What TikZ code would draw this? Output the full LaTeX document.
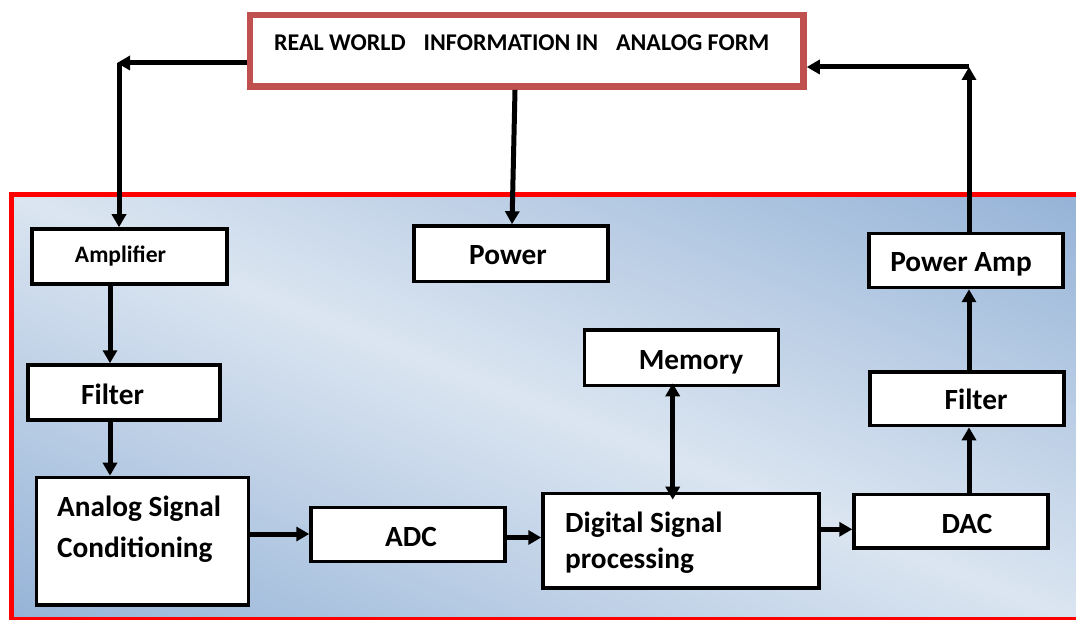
\documentclass[tikz,border=0pt]{standalone}
\usepackage{fontspec}
\setmainfont{Carlito}
\usetikzlibrary{arrows.meta}
\definecolor{bglight}{RGB}{219,229,241}
\definecolor{bgdark}{RGB}{149,179,215}
\definecolor{worldred}{RGB}{192,80,77}
\tikzset{
  blockbox/.style={draw=black, fill=white, line width=3.5pt, rectangle, inner sep=0pt},
  bigtxt/.style={font=\fontsize{29.3}{33}\selectfont\bfseries, inner sep=0pt, anchor=base},
  smalltxt/.style={font=\fontsize{23.6}{27}\selectfont\bfseries, inner sep=0pt, anchor=base},
  worldfont/.style={font=\fontsize{24}{28}\selectfont\bfseries, inner sep=0pt, anchor=base west},
  flow/.style={line width=5pt, -{Triangle[length=13pt,width=14pt]}},
  bothflow/.style={line width=5pt, {Triangle[length=13pt,width=14pt]}-{Triangle[length=13pt,width=14pt]}}
}
\begin{document}
\begin{tikzpicture}[x=1pt,y=-1pt]
\useasboundingbox (0,0) rectangle (1076,620);

% system panel: diagonal two-way gradient, dark in the lower-left and
% upper-right corners, light along the other diagonal
\begin{scope}[shift={(11,622)}, x=1071pt, y=427.5pt]
  \clip (0,0) rectangle (1,1);
  \foreach \i in {0,...,119}{
    \pgfmathsetmacro{\ta}{\i/120}
    \pgfmathsetmacro{\tb}{(\i+1.6)/120}
    \pgfmathsetmacro{\tm}{(\i+0.5)/120}
    \pgfmathsetmacro{\mix}{100*abs(1-2*\tm)}
    \fill[bgdark!\mix!bglight]
      ({2*\ta+2},-2) -- ({2*\ta-2},2) -- ({2*\tb-2},2) -- ({2*\tb+2},-2) -- cycle;
  }
\end{scope}
\draw[red, line width=5pt] (11,194.5) rectangle (1082,619.5);

% real world box
\node[draw=worldred, fill=white, line width=6.5pt, inner sep=0pt,
      minimum width=553.5pt, minimum height=71.7pt] (world) at (526.75,50.85) {};
\node[worldfont] (worldtxt) at (274,51)
  {REAL WORLD\hspace{18pt}INFORMATION IN\hspace{18pt}ANALOG FORM};

% blocks
\node[blockbox, minimum width=195pt, minimum height=55pt]   (amp)   at (129.5,256.5) {};
\node[blockbox, minimum width=194pt, minimum height=55.5pt] (power) at (511,253.7) {};
\node[blockbox, minimum width=192pt, minimum height=55pt]   (filtL) at (124,392.5) {};
\node[blockbox, minimum width=212pt, minimum height=127.5pt] (asc)  at (142.5,541.2) {};
\node[blockbox, minimum width=194pt, minimum height=54pt]   (adc)   at (408,534.5) {};
\node[blockbox, minimum width=276pt, minimum height=94.5pt] (dsp)   at (681,540.7) {};
\node[blockbox, minimum width=194pt, minimum height=55.5pt] (mem)   at (681.5,357.8) {};
\node[blockbox, minimum width=194pt, minimum height=53.5pt] (dac)   at (951,521.3) {};
\node[blockbox, minimum width=194pt, minimum height=53.5pt] (filtR) at (967,398.8) {};
\node[blockbox, minimum width=194pt, minimum height=54pt]   (pamp)  at (966,260.5) {};

% block labels
\node[smalltxt] (amptxt)   at (120.5,263) {Amplifier};
\node[bigtxt]   (powertxt) at (508,265) {Power};
\node[bigtxt]   (filtLtxt) at (112.5,404) {Filter};
\node[bigtxt, anchor=base west] (asctxtA) at (57,516) {Analog Signal};
\node[bigtxt, anchor=base west] (asctxtB) at (57,557) {Conditioning};
\node[bigtxt]   (adctxt)   at (411,546) {ADC};
\node[bigtxt, anchor=base west] (dsptxtA) at (565,532) {Digital Signal};
\node[bigtxt, anchor=base west] (dsptxtB) at (565,568) {processing};
\node[bigtxt]   (memtxt)   at (691,369) {Memory};
\node[bigtxt]   (filtRtxt) at (976,409) {Filter};
\node[bigtxt]   (dactxt)   at (967,533) {DAC};
\node[bigtxt]   (pamptxt)  at (961,272) {Power Amp};

% corner points of the feedback paths
\coordinate (cornerL) at (117,63);
\coordinate (cornerR) at (969,67);
\path (672.7,0 |- mem.south) ++(0,-4) coordinate (memtip);
\path (672.7,0 |- dsp.north) ++(0,8) coordinate (dsptip);

% connectors
\draw[flow] (world.west |- cornerL) -- (cornerL);
\draw[flow] (119,63) -- (119,0 |- amp.north);
\draw[flow] (515,0 |- world.south) -- (512,0 |- power.north);
\draw[flow] (110,0 |- amp.south) -- (110,0 |- filtL.north);
\draw[flow] (110,0 |- filtL.south) -- (110,0 |- asc.north);
\draw[flow] (asc.east |- 0,534) -- (adc.west |- 0,534);
\draw[flow] (adc.east |- 0,537.5) -- (dsp.west |- 0,537.5);
\draw[bothflow] (memtip) -- (dsptip);
\draw[flow] (dsp.east |- 0,529.3) -- (dac.west |- 0,529.3);
\draw[flow] (969,0 |- dac.north) -- (969,0 |- filtR.south);
\draw[flow] (969,0 |- filtR.north) -- (969,0 |- pamp.south);
\draw[flow] (969,0 |- pamp.north) -- (cornerR);
\draw[flow] (cornerR) -- (world.east |- cornerR);
\end{tikzpicture}
\end{document}
